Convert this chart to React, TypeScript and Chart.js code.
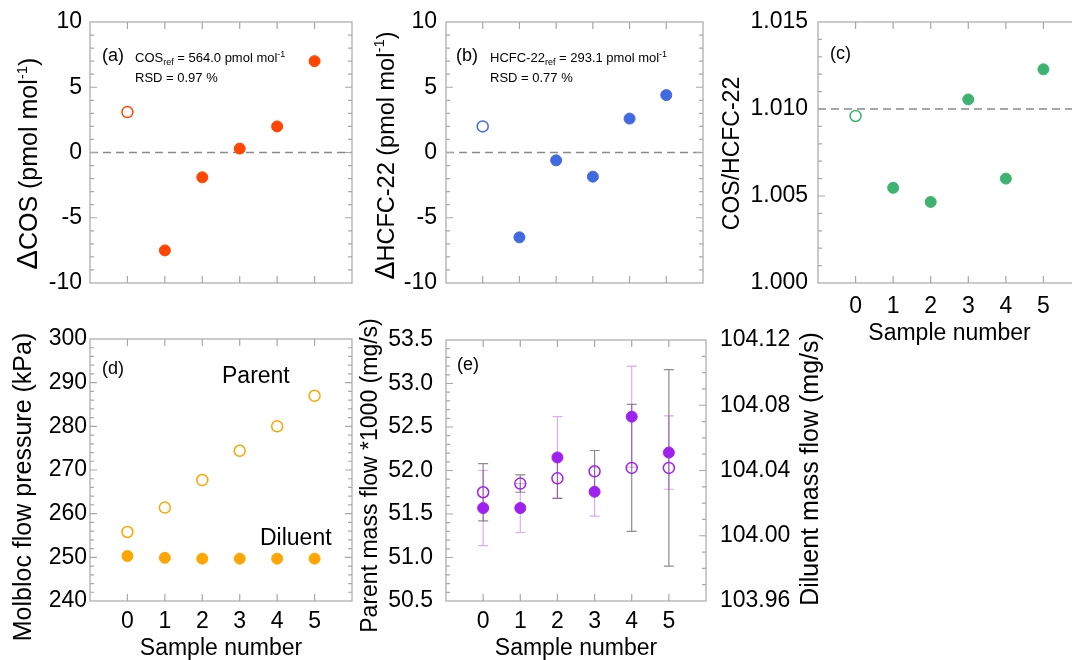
import React, { useEffect, useRef } from "react";
import { Chart, registerables } from "chart.js";

Chart.register(...registerables);

const FONT = "'Liberation Sans', Arial, Helvetica, sans-serif";

// ---------------- data ----------------
const sampleNumbers = [0, 1, 2, 3, 4, 5];
const referenceSampleIndex = 0; // drawn as an open circle in (a)-(c)

const deltaCOS = [3.1, -7.5, -1.9, 0.3, 2.0, 7.0];
const deltaHCFC22 = [2.0, -6.5, -0.6, -1.85, 2.6, 4.4];
const ratioCOSHCFC22 = [1.0096, 1.00547, 1.00466, 1.01055, 1.006, 1.01228];

const parentPressure = [255.8, 261.4, 267.7, 274.4, 280.0, 287.0];
const diluentPressure = [250.3, 249.9, 249.7, 249.7, 249.7, 249.7];

const parentMassFlow = [51.75, 51.85, 51.91, 51.99, 52.03, 52.03];
const parentMassFlowErr = [0.33, 0.1, 0.23, 0.24, 0.73, 1.13];
const diluentMassFlow = [104.017, 104.017, 104.048, 104.027, 104.073, 104.051];
const diluentMassFlowErr = [0.023, 0.015, 0.025, 0.015, 0.031, 0.0225];

// tick labels
const deltaTicks = [-10, -5, 0, 5, 10];
const ratioTicks = [1.0, 1.005, 1.01, 1.015];
const pressureTicks = [240, 250, 260, 270, 280, 290, 300];
const parentFlowTicks = [50.5, 51.0, 51.5, 52.0, 52.5, 53.0, 53.5];
const diluentFlowTicks = [103.96, 104.0, 104.04, 104.08, 104.12];

// ---------------- styles ----------------
const C_COS = "#ff4500";
const C_HCFC = "#4169e1";
const C_RATIO = "#3cb371";
const C_PRESS = "#ffa500";
const C_FLOW = "#a020f0";
const C_ERR_PARENT = "#8c8c8c";
const C_ERR_DILUENT = "rgba(160,32,240,0.38)";
const FRAME = "#a8a8a8";
const TICK_MAJOR = 7;
const TICK_MINOR = 4;

type Seg = { t: string; s: number; dy?: number };
type TextItem = {
  x: number;
  y: number;
  segs: Seg[];
  rot?: boolean;
  align?: "left" | "center";
  anchor?: "left" | "right";
};

function drawRich(ctx: CanvasRenderingContext2D, it: TextItem, ca: any) {
  const x = (it.anchor === "right" ? ca.right : ca.left) + it.x;
  const y = ca.top + it.y;
  ctx.save();
  ctx.translate(x, y);
  if (it.rot) ctx.rotate(-Math.PI / 2);
  ctx.textBaseline = "alphabetic";
  ctx.textAlign = "left";
  ctx.fillStyle = "#000";
  const widths = it.segs.map((sg) => {
    ctx.font = `${sg.s}px ${FONT}`;
    return ctx.measureText(sg.t).width;
  });
  const total = widths.reduce((a, b) => a + b, 0);
  let cx = it.align === "center" ? -total / 2 : 0;
  it.segs.forEach((sg, i) => {
    ctx.font = `${sg.s}px ${FONT}`;
    ctx.fillText(sg.t, cx, sg.dy || 0);
    cx += widths[i];
  });
  ctx.restore();
}

type Deco = {
  yMinor: number;
  rightScale?: string;
  rightMinor?: number;
  refLine?: { scale: string; value: number };
  errorBars?: { scale: string; values: number[]; errors: number[]; color: string }[];
  texts: TextItem[];
};

function decoPlugin(d: Deco) {
  return {
    id: "deco",
    beforeDatasetsDraw(chart: any) {
      const { ctx, chartArea: ca, scales } = chart;
      const { left, right, top, bottom } = ca;
      ctx.save();
      if (d.refLine) {
        const py = scales[d.refLine.scale].getPixelForValue(d.refLine.value);
        ctx.strokeStyle = "#8a8a8a";
        ctx.lineWidth = 1.3;
        ctx.setLineDash([8, 5]);
        ctx.beginPath();
        ctx.moveTo(left, py);
        ctx.lineTo(right, py);
        ctx.stroke();
        ctx.setLineDash([]);
      }
      const xs = scales.x;
      for (const eb of d.errorBars || []) {
        const sc = scales[eb.scale];
        ctx.strokeStyle = eb.color;
        ctx.lineWidth = 1.2;
        ctx.beginPath();
        sampleNumbers.forEach((sn, i) => {
          const px = xs.getPixelForValue(sn);
          const y1 = sc.getPixelForValue(eb.values[i] + eb.errors[i]);
          const y2 = sc.getPixelForValue(eb.values[i] - eb.errors[i]);
          ctx.moveTo(px, y1);
          ctx.lineTo(px, y2);
          ctx.moveTo(px - 5, y1);
          ctx.lineTo(px + 5, y1);
          ctx.moveTo(px - 5, y2);
          ctx.lineTo(px + 5, y2);
        });
        ctx.stroke();
      }
      ctx.strokeStyle = FRAME;
      ctx.lineWidth = 1.2;
      ctx.strokeRect(left, top, right - left, bottom - top);
      ctx.beginPath();
      for (const t of xs.ticks) {
        const px = xs.getPixelForValue(t.value);
        ctx.moveTo(px, bottom);
        ctx.lineTo(px, bottom - TICK_MAJOR);
        ctx.moveTo(px, top);
        ctx.lineTo(px, top + TICK_MAJOR);
      }
      const sideTicks = (sc: any, step: number, x0: number, dir: number) => {
        const n = Math.round((sc.max - sc.min) / step);
        for (let i = 1; i < n; i++) {
          const v = sc.min + i * step;
          const major = sc.ticks.some((t: any) => Math.abs(t.value - v) < step / 10);
          const py = sc.getPixelForValue(v);
          ctx.moveTo(x0, py);
          ctx.lineTo(x0 + dir * (major ? TICK_MAJOR : TICK_MINOR), py);
        }
      };
      sideTicks(scales.y, d.yMinor, left, 1);
      if (d.rightScale) sideTicks(scales[d.rightScale], d.rightMinor || d.yMinor, right, -1);
      else sideTicks(scales.y, d.yMinor, right, -1);
      ctx.stroke();
      ctx.restore();
    },
    afterDraw(chart: any) {
      const { ctx, chartArea } = chart;
      for (const it of d.texts) drawRich(ctx, it, chartArea);
    },
  };
}

function axisY(o: {
  min: number;
  max: number;
  ticks: number[];
  dec: number;
  pad: number;
  width: number;
  position?: "left" | "right";
}) {
  return {
    type: "linear",
    position: o.position || "left",
    min: o.min,
    max: o.max,
    grid: { display: false, drawTicks: false },
    border: { display: false },
    afterBuildTicks: (s: any) => {
      s.ticks = o.ticks.map((v) => ({ value: v }));
    },
    afterFit: (s: any) => {
      s.width = o.width;
    },
    ticks: {
      padding: o.pad,
      autoSkip: false,
      color: "#000",
      font: { family: FONT, size: 23, lineHeight: 1.0 },
      callback: (v: any) => Number(v).toFixed(o.dec),
    },
  };
}

function axisX(o: { show: boolean; pad: number; height: number; title: boolean }) {
  return {
    type: "linear",
    position: "bottom",
    min: -1,
    max: 6,
    grid: { display: false, drawTicks: false },
    border: { display: false },
    afterBuildTicks: (s: any) => {
      s.ticks = sampleNumbers.map((v) => ({ value: v }));
    },
    afterFit: (s: any) => {
      s.height = o.height;
    },
    ticks: {
      display: o.show,
      padding: o.pad,
      autoSkip: false,
      maxRotation: 0,
      color: "#000",
      font: { family: FONT, size: 23, lineHeight: 1.0 },
      callback: (v: any) => String(v),
    },
    title: {
      display: o.title,
      text: "Sample number",
      color: "#000",
      font: { family: FONT, size: 23 },
      padding: { top: 0, bottom: 0 },
    },
  };
}

function pointDataset(values: number[], color: string, style: "ref" | "open" | "filled", yAxisID = "y") {
  const open = (i: number) => style === "open" || (style === "ref" && i === referenceSampleIndex);
  return {
    data: sampleNumbers.map((x, i) => ({ x, y: values[i] })),
    yAxisID,
    showLine: false,
    pointRadius: 5.5,
    pointHoverRadius: 5.5,
    pointBackgroundColor: sampleNumbers.map((_, i) => (open(i) ? "rgba(0,0,0,0)" : color)),
    pointBorderColor: color,
    pointBorderWidth: sampleNumbers.map((_, i) => (open(i) ? 1.5 : 1)),
  };
}

function baseOptions(scales: any, top: number, right: number) {
  return {
    responsive: false,
    animation: false,
    events: [],
    layout: { padding: { top, right, bottom: 0, left: 0 } },
    plugins: { legend: { display: false }, tooltip: { enabled: false } },
    scales,
  };
}

const smallRef = (name: string, value: string): Seg[] => [
  { t: name, s: 13 },
  { t: "ref", s: 9, dy: 3 },
  { t: ` = ${value} pmol mol`, s: 13 },
  { t: "-1", s: 9, dy: -5 },
];

type PanelSpec = { key: string; box: { left: number; top: number; width: number; height: number }; build: () => any };

const panels: PanelSpec[] = [
  {
    key: "a",
    box: { left: 0, top: 0, width: 360, height: 305 },
    build: () => ({
      type: "scatter",
      data: { datasets: [pointDataset(deltaCOS, C_COS, "ref")] },
      options: baseOptions(
        {
          x: axisX({ show: false, pad: 0, height: 22, title: false }),
          y: axisY({ min: -10, max: 10, ticks: deltaTicks, dec: 0, pad: 8, width: 90 }),
        },
        22,
        8
      ),
      plugins: [
        decoPlugin({
          yMinor: 1,
          refLine: { scale: "y", value: 0 },
          texts: [
            { x: 12, y: 39, segs: [{ t: "(a)", s: 18 }] },
            { x: 45, y: 40, segs: smallRef("COS", "564.0") },
            { x: 45, y: 60, segs: [{ t: "RSD = 0.97 %", s: 13 }] },
            {
              x: -53,
              y: 141.5,
              rot: true,
              align: "center",
              segs: [
                { t: "Δ", s: 29 },
                { t: "COS (pmol mol", s: 25 },
                { t: "-1", s: 15, dy: -10 },
                { t: ")", s: 25 },
              ],
            },
          ],
        }),
      ],
    }),
  },
  {
    key: "b",
    box: { left: 360, top: 0, width: 350, height: 305 },
    build: () => ({
      type: "scatter",
      data: { datasets: [pointDataset(deltaHCFC22, C_HCFC, "ref")] },
      options: baseOptions(
        {
          x: axisX({ show: false, pad: 0, height: 22, title: false }),
          y: axisY({ min: -10, max: 10, ticks: deltaTicks, dec: 0, pad: 9, width: 86 }),
        },
        22,
        6
      ),
      plugins: [
        decoPlugin({
          yMinor: 1,
          refLine: { scale: "y", value: 0 },
          texts: [
            { x: 10, y: 39, segs: [{ t: "(b)", s: 18 }] },
            { x: 44, y: 40, segs: smallRef("HCFC-22", "293.1") },
            { x: 44, y: 60, segs: [{ t: "RSD = 0.77 %", s: 13 }] },
            {
              x: -52,
              y: 133.5,
              rot: true,
              align: "center",
              segs: [
                { t: "Δ", s: 27 },
                { t: "HCFC-22 (pmol mol", s: 23.5 },
                { t: "-1", s: 15, dy: -10 },
                { t: ")", s: 23.5 },
              ],
            },
          ],
        }),
      ],
    }),
  },
  {
    key: "c",
    box: { left: 706, top: 0, width: 390, height: 347 },
    build: () => ({
      type: "scatter",
      data: { datasets: [pointDataset(ratioCOSHCFC22, C_RATIO, "ref")] },
      options: baseOptions(
        {
          x: axisX({ show: true, pad: 12, height: 64, title: true }),
          y: axisY({ min: 1.0, max: 1.015, ticks: ratioTicks, dec: 3, pad: 10, width: 112 }),
        },
        22,
        15
      ),
      plugins: [
        decoPlugin({
          yMinor: 0.001,
          refLine: { scale: "y", value: 1.01 },
          texts: [
            { x: 12, y: 37, segs: [{ t: "(c)", s: 18 }] },
            { x: -79.5, y: 131.5, rot: true, align: "center", segs: [{ t: "COS/HCFC-22", s: 23 }] },
          ],
        }),
      ],
    }),
  },
  {
    key: "d",
    box: { left: 0, top: 300, width: 360, height: 362 },
    build: () => ({
      type: "scatter",
      data: {
        datasets: [
          pointDataset(parentPressure, C_PRESS, "open"),
          pointDataset(diluentPressure, C_PRESS, "filled"),
        ],
      },
      options: baseOptions(
        {
          x: axisX({ show: true, pad: 9, height: 61, title: true }),
          y: axisY({ min: 240, max: 300, ticks: pressureTicks, dec: 0, pad: 3, width: 90 }),
        },
        39,
        8
      ),
      plugins: [
        decoPlugin({
          yMinor: 2,
          texts: [
            { x: 12, y: 35, segs: [{ t: "(d)", s: 18 }] },
            { x: 132, y: 44, segs: [{ t: "Parent", s: 23 }] },
            { x: 170, y: 206, segs: [{ t: "Diluent", s: 23 }] },
            {
              x: -59,
              y: 148,
              rot: true,
              align: "center",
              segs: [{ t: "Molbloc flow pressure (kPa)", s: 25 }],
            },
          ],
        }),
      ],
    }),
  },
  {
    key: "e",
    box: { left: 356, top: 300, width: 480, height: 362 },
    build: () => ({
      type: "scatter",
      data: {
        datasets: [
          pointDataset(parentMassFlow, C_FLOW, "open", "y"),
          pointDataset(diluentMassFlow, C_FLOW, "filled", "y2"),
        ],
      },
      options: baseOptions(
        {
          x: axisX({ show: true, pad: 9, height: 61, title: true }),
          y: axisY({ min: 50.5, max: 53.5, ticks: parentFlowTicks, dec: 1, pad: 13, width: 90 }),
          y2: axisY({
            min: 103.96,
            max: 104.12,
            ticks: diluentFlowTicks,
            dec: 2,
            pad: 14,
            width: 130,
            position: "right",
          }),
        },
        40,
        0
      ),
      plugins: [
        decoPlugin({
          yMinor: 0.1,
          rightScale: "y2",
          rightMinor: 0.01,
          errorBars: [
            { scale: "y", values: parentMassFlow, errors: parentMassFlowErr, color: C_ERR_PARENT },
            { scale: "y2", values: diluentMassFlow, errors: diluentMassFlowErr, color: C_ERR_DILUENT },
          ],
          texts: [
            { x: 11, y: 30, segs: [{ t: "(e)", s: 18 }] },
            {
              x: -69,
              y: 135.5,
              rot: true,
              align: "center",
              segs: [{ t: "Parent mass flow *1000 (mg/s)", s: 23 }],
            },
            {
              x: 112,
              y: 129,
              anchor: "right",
              rot: true,
              align: "center",
              segs: [{ t: "Diluent mass flow (mg/s)", s: 25 }],
            },
          ],
        }),
      ],
    }),
  },
];

function Panel({ spec }: { spec: PanelSpec }) {
  const ref = useRef<HTMLCanvasElement>(null);
  useEffect(() => {
    const chart = new Chart(ref.current as HTMLCanvasElement, spec.build());
    return () => chart.destroy();
  }, [spec]);
  const { left, top, width, height } = spec.box;
  return (
    <canvas
      ref={ref}
      width={width}
      height={height}
      style={{ position: "absolute", left, top, width, height, display: "block" }}
    />
  );
}

export default function App() {
  return (
    <div
      style={{
        position: "fixed",
        left: 0,
        top: 0,
        width: 1072,
        height: 660,
        overflow: "hidden",
        background: "#fff",
      }}
    >
      {panels.map((p) => (
        <Panel key={p.key} spec={p} />
      ))}
    </div>
  );
}
